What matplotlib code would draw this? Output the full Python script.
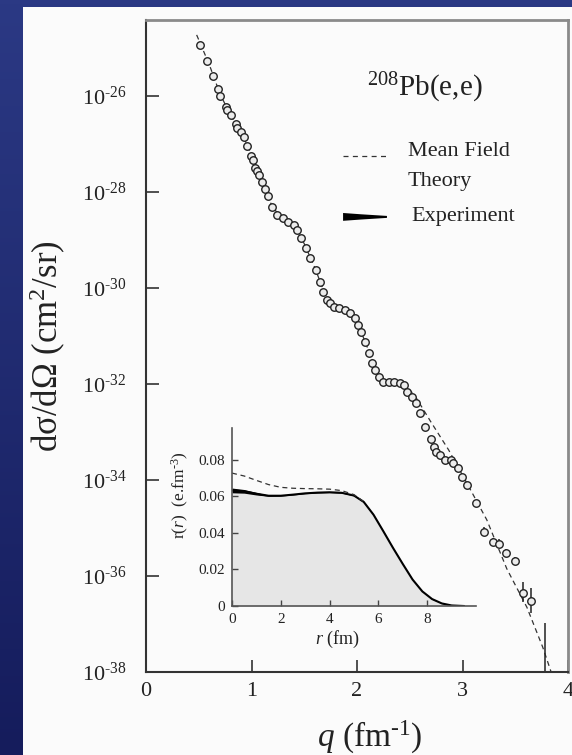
import numpy as np
import matplotlib
matplotlib.use("Agg")
import matplotlib.pyplot as plt
from matplotlib.patches import Polygon, Rectangle
from matplotlib.colors import LinearSegmentedColormap

# 208Pb(e,e) cross section (q in fm^-1, log10 of dsigma/dOmega)
q_data = [0.512, 0.578, 0.635, 0.682, 0.701, 0.758, 0.768, 0.806, 0.853, 0.863,
          0.900, 0.929, 0.957, 0.995, 1.014, 1.033, 1.052, 1.071, 1.100, 1.128,
          1.156, 1.194, 1.242, 1.299, 1.346, 1.403, 1.431, 1.469, 1.517, 1.555,
          1.611, 1.649, 1.678, 1.716, 1.744, 1.782, 1.829, 1.886, 1.934, 1.981,
          2.009, 2.038, 2.076, 2.114, 2.142, 2.171, 2.209, 2.246, 2.303, 2.351,
          2.408, 2.445, 2.474, 2.521, 2.559, 2.597, 2.645, 2.701, 2.730, 2.749,
          2.787, 2.834, 2.891, 2.910, 2.957, 2.995, 3.043, 3.128, 3.204, 3.289,
          3.346, 3.412, 3.498, 3.573, 3.649]
log_data = [-24.94, -25.27, -25.58, -25.85, -26.00, -26.23, -26.29, -26.40, -26.58, -26.67,
            -26.75, -26.85, -27.04, -27.25, -27.33, -27.50, -27.56, -27.65, -27.79, -27.94,
            -28.08, -28.31, -28.48, -28.54, -28.63, -28.69, -28.79, -28.96, -29.17, -29.38,
            -29.63, -29.88, -30.08, -30.25, -30.31, -30.40, -30.42, -30.46, -30.52, -30.63,
            -30.77, -30.92, -31.13, -31.35, -31.56, -31.71, -31.85, -31.96, -31.96, -31.96,
            -31.98, -32.02, -32.17, -32.27, -32.40, -32.60, -32.90, -33.15, -33.31, -33.42,
            -33.48, -33.58, -33.58, -33.65, -33.75, -33.94, -34.10, -34.48, -35.08, -35.29,
            -35.33, -35.52, -35.69, -36.35, -36.52]

# error bars on the high-q points
q_err = [3.204, 3.289, 3.346, 3.412, 3.498, 3.573, 3.649, 3.78]
log_err_lo = [-35.17, -35.38, -35.42, -35.61, -35.78, -36.55, -36.77, -38.3]
log_err_hi = [-34.99, -35.20, -35.24, -35.43, -35.60, -36.13, -36.25, -36.98]

# mean field theory curve
q_theory = [0.48, 0.6, 0.7, 0.8, 0.9, 1.0, 1.1, 1.2, 1.3, 1.4, 1.5, 1.6, 1.7, 1.8, 1.9,
            2.0, 2.1, 2.2, 2.3, 2.45, 2.55, 2.7, 2.87, 3.05, 3.23, 3.42, 3.61, 3.76, 3.84]
log_theory = [-24.73, -25.35, -25.95, -26.40, -26.75, -27.22, -27.78, -28.33, -28.55, -28.69,
              -29.08, -29.58, -30.15, -30.40, -30.48, -30.70, -31.25, -31.80, -31.97, -32.00,
              -32.25, -32.79, -33.38, -34.10, -34.83, -35.85, -36.65, -37.48, -38.0]

# inset: charge density
r_exp = [0.0, 0.5, 1.0, 1.5, 2.0, 2.5, 3.0, 3.5, 4.0, 4.5, 5.0, 5.4, 5.8, 6.2, 6.6,
         7.0, 7.4, 7.8, 8.2, 8.6, 9.0, 9.5]
rho_exp = [0.0633, 0.0628, 0.0615, 0.0604, 0.0604, 0.0610, 0.0617, 0.0621, 0.0623, 0.0620,
           0.0605, 0.0570, 0.0500, 0.0410, 0.0318, 0.0230, 0.0145, 0.0080, 0.0038, 0.0014,
           0.0003, 0.0]
rho_band = [0.0013, 0.0010, 0.0007, 0.0003, 0.0002, 0.0002, 0.0002, 0.0002, 0.0002, 0.0002,
            0.0002, 0.0002, 0.0002, 0.0002, 0.0002, 0.0002, 0.0002, 0.0001, 0.0001, 0.0001,
            0.0, 0.0]
r_theory = [0.0, 0.5, 1.0, 1.5, 2.0, 2.5, 3.0, 3.5, 4.0, 4.5, 5.0, 5.4]
rho_theory = [0.0728, 0.0712, 0.0688, 0.0665, 0.0650, 0.0645, 0.0643, 0.0642, 0.0640, 0.0632,
              0.0610, 0.0572]

y_exponents = [26, 28, 30, 32, 34, 36, 38]

plt.rcParams["font.family"] = ["Liberation Serif", "DejaVu Serif"]
plt.rcParams["mathtext.fontset"] = "custom"
plt.rcParams["mathtext.rm"] = "Liberation Serif"
plt.rcParams["mathtext.it"] = "Liberation Serif:italic"

fig = plt.figure(figsize=(5.72, 7.55), dpi=100)

# blue slide background with a light panel
bg = fig.add_axes([0, 0, 1, 1], zorder=-10)
cmap = LinearSegmentedColormap.from_list("slide", ["#2b3984", "#151c5c"])
bg.imshow(np.linspace(0, 1, 200).reshape(-1, 1), cmap=cmap, aspect="auto",
          extent=[0, 1, 0, 1])
bg.add_patch(Rectangle((23 / 572, 0), 1, 748 / 755, transform=bg.transAxes,
                       color="#fbfbfb", lw=0))
bg.set_xlim(0, 1)
bg.set_ylim(0, 1)
bg.axis("off")

ax = fig.add_axes([146 / 572, 83 / 755, 422 / 572, 652 / 755])
ax.set_facecolor("none")
ax.set_yscale("log")

theory_y = [10 ** v for v in log_theory]
ax.plot(q_theory, theory_y, color="#333333", lw=0.9, dashes=(4, 3))

ax.vlines(q_err, [10 ** v for v in log_err_lo], [10 ** v for v in log_err_hi],
          color="#222222", lw=1.1)
ax.plot(q_data, [10 ** v for v in log_data], "o", ms=5.4, mfc="#ececec",
        mec="#222222", mew=1.0, ls="none")

ax.set_xlim(0, 4)
ax.set_ylim(1e-38, 10 ** -24.42)
ax.set_xticks([0, 1, 2, 3, 4])
ax.set_xticklabels(["0", "1", "2", "3", "4"])
ax.set_yticks([10.0 ** -e for e in y_exponents])
ax.set_yticklabels([r"$\mathregular{10^{\text{-}%d}}$" % e for e in y_exponents])
ax.minorticks_off()
ax.tick_params(axis="both", direction="in", length=9, width=1.2, color="#333333",
               labelsize=16, colors="#222222")
ax.tick_params(axis="x", pad=7)
ax.tick_params(axis="y", pad=14)
for side in ["left", "bottom"]:
    ax.spines[side].set_color("#333333")
    ax.spines[side].set_linewidth(1.5)
for side in ["top", "right"]:
    ax.spines[side].set_color("#8a8a8a")
    ax.spines[side].set_linewidth(2.0)

ax.set_xlabel(r"$q$ (fm$\mathregular{^{\text{-}1}}$)", fontsize=24, color="#222222")
ax.xaxis.set_label_coords(0.531, -0.072)
ax.set_ylabel("dσ/dΩ (cm$\\mathregular{^2}$/sr)", fontsize=25, color="#222222")
ax.yaxis.label.set_va("center")
ax.yaxis.set_label_coords(-0.232, 0.5)

# title and legend
ax.text(0.524, 0.896, r"$\mathregular{^{208}}$Pb(e,e)", transform=ax.transAxes,
        fontsize=21, ha="left", va="center", color="#222222")
ax.plot([0.467, 0.571], [0.791, 0.791], transform=ax.transAxes, color="#333333",
        lw=0.9, dashes=(4, 3.5))
ax.text(0.621, 0.798, "Mean Field", transform=ax.transAxes, fontsize=16,
        ha="left", va="center", color="#222222")
ax.text(0.621, 0.752, "Theory", transform=ax.transAxes, fontsize=16,
        ha="left", va="center", color="#222222")
wedge = Polygon([(0.467, 0.704), (0.51, 0.702), (0.571, 0.6995), (0.571, 0.6965),
                 (0.51, 0.694), (0.467, 0.692)], closed=True, transform=ax.transAxes,
                color="black", lw=0)
ax.add_patch(wedge)
ax.text(0.628, 0.698, "Experiment", transform=ax.transAxes, fontsize=16,
        ha="left", va="center", color="#222222")

# inset: charge density
ins = fig.add_axes([232 / 572, 149 / 755, 244 / 572, 178 / 755])
ins.set_facecolor("none")
ins.fill_between(r_exp, 0, rho_exp, color="#e6e6e6", lw=0)
lo = [a - b for a, b in zip(rho_exp, rho_band)]
hi = [a + b for a, b in zip(rho_exp, rho_band)]
ins.fill_between(r_exp, lo, hi, color="black", lw=0)
ins.plot(r_exp, rho_exp, color="black", lw=1.5)
ins.plot(r_theory, rho_theory, color="#333333", lw=0.9, dashes=(4, 3))
ins.set_xlim(0, 10)
ins.set_ylim(0, 0.0975)
ins.set_xticks([0, 2, 4, 6, 8])
ins.set_yticks([0, 0.02, 0.04, 0.06, 0.08])
ins.set_yticklabels(["0", "0.02", "0.04", "0.06", "0.08"])
ins.tick_params(direction="in", length=4, width=1.0, color="#444444", labelsize=11,
                colors="#222222", pad=5)
for side in ["top", "right"]:
    ins.spines[side].set_visible(False)
for side in ["left", "bottom"]:
    ins.spines[side].set_color("#555555")
    ins.spines[side].set_linewidth(1.2)
ins.set_xlabel(r"$r$ (fm)", fontsize=13, color="#222222")
ins.xaxis.set_label_coords(0.43, -0.13)
ins.set_ylabel(r"r($r$)  (e.fm$\mathregular{^{\text{-}3}}$)", fontsize=12.5, color="#222222")
ins.yaxis.label.set_va("center")
ins.yaxis.set_label_coords(-0.21, 0.62)

fig.savefig("out.png", dpi=100)
